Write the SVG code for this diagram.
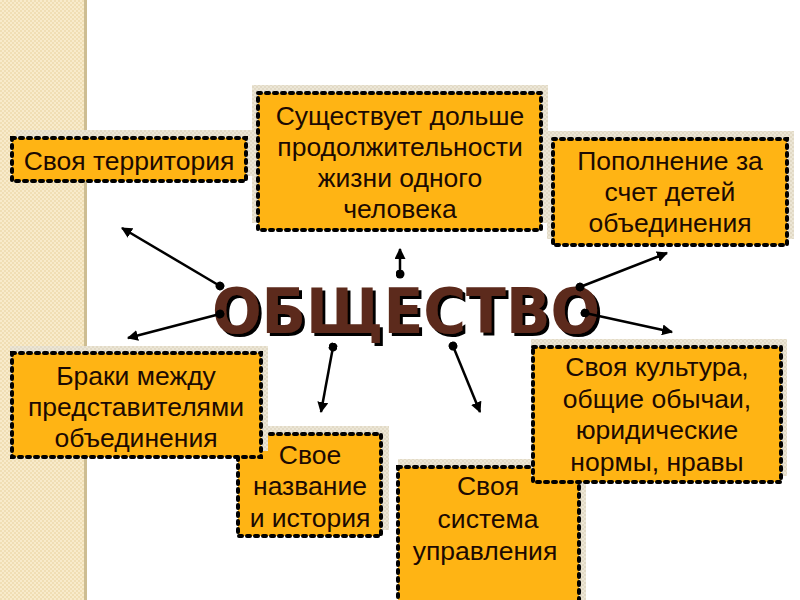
<svg xmlns="http://www.w3.org/2000/svg" width="800" height="600" viewBox="0 0 800 600">
<defs>
<pattern id="strip" width="4" height="4" patternUnits="userSpaceOnUse">
<rect width="4" height="4" fill="#f0deb4"/>
<rect width="2" height="2" fill="#f8ebcb"/>
<rect x="2" y="2" width="2" height="2" fill="#f8ebcb"/>
</pattern>
<pattern id="shadowpat" width="4" height="4" patternUnits="userSpaceOnUse">
<rect width="4" height="4" fill="#e2dac6"/>
<rect width="2" height="2" fill="#ece6d6"/>
<rect x="2" y="2" width="2" height="2" fill="#ece6d6"/>
</pattern>
<marker id="arrow" viewBox="0 0 10 10" refX="9" refY="5" markerWidth="4.4" markerHeight="4.4" orient="auto" markerUnits="strokeWidth">
<path d="M0,0 L10,5 L0,10 Z" fill="#000"/>
</marker>
<marker id="dot" viewBox="0 0 10 10" refX="5" refY="5" markerWidth="3.6" markerHeight="3.6" orient="auto" markerUnits="strokeWidth">
<circle cx="5" cy="5" r="5" fill="#000"/>
</marker>
<filter id="tshadow" x="-5%" y="-20%" width="110%" height="140%">
<feOffset in="SourceAlpha" dx="3" dy="3" result="off"/>
<feMerge><feMergeNode in="off"/><feMergeNode in="SourceGraphic"/></feMerge>
</filter>
</defs>
<style>
.shadow{fill:url(#shadowpat);}
.box{fill:#ffb414;stroke:#000;stroke-width:4;stroke-dasharray:3 5;stroke-linecap:round;}
.lbl{font-family:"Liberation Sans",Arial,sans-serif;font-size:26.5px;fill:#1c0a02;text-anchor:middle;}
.conn line{stroke:#000;stroke-width:2.5;marker-start:url(#dot);marker-end:url(#arrow);}
.title{font-family:"DejaVu Sans",Verdana,sans-serif;font-weight:bold;font-size:63px;fill:#5c2a1c;filter:url(#tshadow);}
</style>
<rect width="800" height="600" fill="#fff"/>
<rect x="0" y="0" width="85" height="600" fill="url(#strip)"/>
<rect x="84" y="0" width="3" height="600" fill="#cdbd92"/>

<g id="territory">
<rect class="shadow" x="16" y="130" width="238" height="46"/>
<rect class="box" x="12" y="138" width="234" height="43"/>
<text class="lbl" x="129" y="170">Своя территория</text>
</g>

<g id="longer-than-life">
<rect class="shadow" x="252" y="85" width="296" height="138"/>
<rect class="box" x="258" y="93" width="283" height="137"/>
<text class="lbl" x="400" y="125">Существует дольше</text>
<text class="lbl" x="400" y="156">продолжительности</text>
<text class="lbl" x="400" y="187">жизни одного</text>
<text class="lbl" x="400" y="218">человека</text>
</g>

<g id="replenishment">
<rect class="shadow" x="547" y="131" width="247" height="108"/>
<rect class="box" x="553" y="139" width="234" height="106"/>
<text class="lbl" x="670" y="170">Пополнение за</text>
<text class="lbl" x="670" y="201">счет детей</text>
<text class="lbl" x="670" y="232">объединения</text>
</g>

<g id="name-history">
<rect class="shadow" x="240" y="426" width="149" height="104"/>
<rect class="box" x="238" y="434" width="143" height="102"/>
<text class="lbl" x="310" y="464">Свое</text>
<text class="lbl" x="310" y="495">название</text>
<text class="lbl" x="310" y="527">и история</text>
</g>

<g id="marriages">
<rect class="shadow" x="10" y="346" width="258" height="105"/>
<rect class="box" x="12" y="353" width="249" height="104"/>
<text class="lbl" x="136" y="385">Браки между</text>
<text class="lbl" x="136" y="416">представителями</text>
<text class="lbl" x="136" y="447">объединения</text>
</g>

<g id="government">
<rect class="shadow" x="398" y="459" width="188" height="141"/>
<rect class="box" x="398" y="467" width="181" height="140"/>
<text class="lbl" x="488" y="495">Своя</text>
<text class="lbl" x="488" y="528">система</text>
<text class="lbl" x="485" y="560">управления</text>
</g>

<g id="culture">
<rect class="shadow" x="531" y="339" width="256" height="137"/>
<rect class="box" x="533" y="347" width="248" height="135"/>
<text class="lbl" x="657" y="376">Своя культура,</text>
<text class="lbl" x="657" y="408">общие обычаи,</text>
<text class="lbl" x="657" y="439">юридические</text>
<text class="lbl" x="657" y="471">нормы, нравы</text>
</g>

<g id="society">
<text class="title" x="212" y="333" textLength="388" lengthAdjust="spacingAndGlyphs">ОБЩЕСТВО</text>
</g>

<g id="connectors" class="conn">
<line x1="400" y1="274" x2="400" y2="249"/>
<line x1="220" y1="286" x2="122" y2="228"/>
<line x1="220" y1="314" x2="128" y2="338"/>
<line x1="580" y1="287" x2="667" y2="253"/>
<line x1="585" y1="313" x2="672" y2="332"/>
<line x1="333" y1="347" x2="321" y2="412"/>
<line x1="453" y1="346" x2="480" y2="412"/>
</g>
</svg>
